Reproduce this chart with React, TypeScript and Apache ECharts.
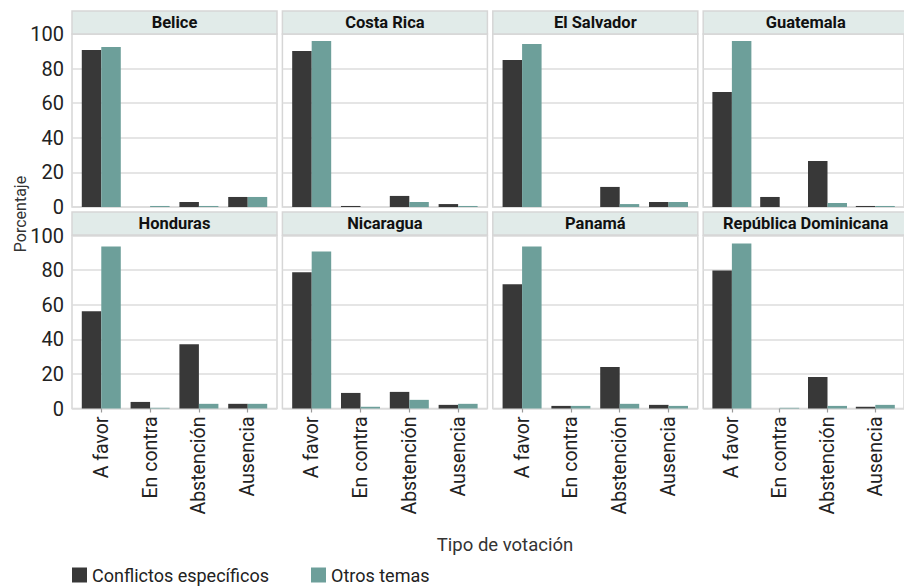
import React, { useEffect, useRef } from "react";
import * as echarts from "echarts";

const categories = ["A favor", "En contra", "Abstención", "Ausencia"];
const countries = [
  "Belice",
  "Costa Rica",
  "El Salvador",
  "Guatemala",
  "Honduras",
  "Nicaragua",
  "Panamá",
  "República Dominicana",
];
const seriesNames = ["Conflictos específicos", "Otros temas"];
// one row per country, values in category order
const conflictosEspecificos = [
  [90.8, 0, 2.9, 5.8],
  [90.2, 0.6, 6.4, 1.7],
  [85.0, 0, 11.6, 2.9],
  [66.5, 5.8, 26.6, 0.6],
  [56.2, 3.8, 37.2, 2.7],
  [78.7, 9.0, 9.6, 2.1],
  [71.8, 1.5, 24.0, 2.1],
  [79.8, 0, 18.2, 1.0],
];
const otrosTemas = [
  [92.5, 0.6, 0.6, 5.8],
  [96.0, 0, 2.9, 0.6],
  [94.2, 0, 1.7, 2.9],
  [96.0, 0, 2.3, 0.6],
  [93.7, 0.4, 2.7, 2.7],
  [90.8, 1.0, 5.0, 2.7],
  [93.7, 1.5, 2.7, 1.5],
  [95.4, 0.4, 1.5, 2.1],
];
const yTicks = [0, 20, 40, 60, 80, 100];

const FONT = "Roboto";
const DARK = "#383838";
const TEAL = "#6d9f9a";
const BORDER = "#d6d6d6";

export default function App() {
  const ref = useRef<HTMLDivElement>(null);

  useEffect(() => {
    if (!ref.current) return;
    const chart = echarts.init(ref.current, null, { renderer: "svg" });

    const panelW = 205;
    const panelH = 173;
    const colStep = 210.4;
    const lefts = [0, 1, 2, 3].map((c) => 72 + c * colStep);
    const tops = [34, 235.5];
    const stripTops = [11, 212];

    const grids: any[] = [];
    const xAxes: any[] = [];
    const yAxes: any[] = [];
    const series: any[] = [];
    const graphics: any[] = [];

    countries.forEach((name, i) => {
      const row = Math.floor(i / 4);
      const col = i % 4;
      const left = lefts[col];
      grids.push({
        left,
        top: tops[row],
        width: panelW,
        height: panelH,
        show: true,
        borderColor: BORDER,
        borderWidth: 1.5,
        backgroundColor: "#fff",
        containLabel: false,
      });
      xAxes.push({
        type: "value",
        gridIndex: i,
        min: 0.4,
        max: 4.6,
        axisLine: { show: false },
        splitLine: { show: false },
        axisTick: {
          show: row === 1,
          customValues: [1, 2, 3, 4],
          length: 4,
          lineStyle: { color: "#9a9a9a", width: 1.2 },
        },
        axisLabel: {
          show: row === 1,
          customValues: [1, 2, 3, 4],
          formatter: (v: number) => categories[Math.round(v) - 1] ?? "",
          rotate: 90,
          fontSize: 19.5,
          fontFamily: FONT,
          color: "#222",
          margin: 8,
        },
      });
      yAxes.push({
        type: "value",
        gridIndex: i,
        min: yTicks[0],
        max: yTicks[yTicks.length - 1],
        interval: 20,
        axisLine: { show: false },
        axisTick: { show: false },
        axisLabel: {
          show: col === 0,
          fontSize: 20,
          fontFamily: FONT,
          color: "#222",
          margin: 8,
        },
        splitLine: { lineStyle: { color: "#dcdcdc", width: 1.5 } },
      });
      [conflictosEspecificos[i], otrosTemas[i]].forEach((vals, s) => {
        series.push({
          type: "bar",
          name: seriesNames[s],
          xAxisIndex: i,
          yAxisIndex: i,
          barWidth: 19.5,
          barGap: "0%",
          itemStyle: { color: s === 0 ? DARK : TEAL },
          data: categories.map((_, k) => [k + 1, vals[k]]),
        });
      });
      graphics.push({
        type: "rect",
        shape: { x: left, y: stripTops[row], width: panelW, height: 23 },
        style: { fill: "#e1ebe9", stroke: BORDER, lineWidth: 1.5 },
        z: 10,
      });
      graphics.push({
        type: "text",
        x: left + panelW / 2,
        y: stripTops[row] + 11.5,
        style: {
          text: name,
          align: "center",
          verticalAlign: "middle",
          font: `bold 16.5px ${FONT}`,
          fill: "#111",
        },
        z: 11,
      });
    });

    graphics.push({
      type: "text",
      x: 20,
      y: 214,
      rotation: Math.PI / 2,
      style: {
        text: "Porcentaje",
        align: "center",
        verticalAlign: "middle",
        font: `16px ${FONT}`,
        fill: "#333",
      },
    });
    graphics.push({
      type: "text",
      x: 505,
      y: 545,
      style: {
        text: "Tipo de votación",
        align: "center",
        verticalAlign: "middle",
        font: `18.5px ${FONT}`,
        fill: "#333",
      },
    });

    chart.setOption({
      animation: false,
      backgroundColor: "#fff",
      grid: grids,
      xAxis: xAxes,
      yAxis: yAxes,
      series,
      legend: {
        data: seriesNames,
        left: 72,
        top: 566,
        icon: "rect",
        itemWidth: 15,
        itemHeight: 15,
        itemGap: 42,
        textStyle: {
          fontSize: 18,
          lineHeight: 15,
          fontFamily: FONT,
          color: "#222",
        },
        padding: 0,
      },
      graphic: graphics,
    });

    return () => chart.dispose();
  }, []);

  return (
    <div
      ref={ref}
      style={{ position: "fixed", left: 0, top: 0, width: 904, height: 586 }}
    />
  );
}
